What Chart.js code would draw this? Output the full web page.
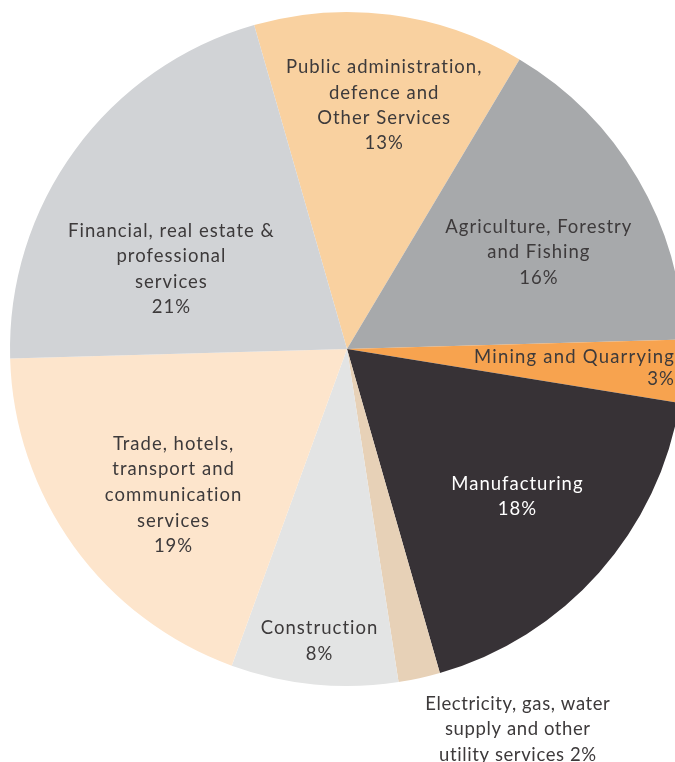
<!DOCTYPE html>
<html>
<head>
<meta charset="utf-8">
<script src="https://cdn.jsdelivr.net/npm/chart.js@4/dist/chart.umd.min.js"></script>
<style>
  html, body { margin: 0; padding: 0; background: #ffffff; overflow: hidden; }
  #wrap { position: relative; width: 675px; height: 762px; overflow: hidden; }
  #pie { position: absolute; left: 0; top: 0; }
</style>
</head>
<body>
<div id="wrap"><canvas id="pie" width="694" height="762"></canvas></div>
<script>
// Sector shares of output (%), clockwise from the top
const categories = [
  'Public administration, defence and Other Services',
  'Agriculture, Forestry and Fishing',
  'Mining and Quarrying',
  'Manufacturing',
  'Electricity, gas, water supply and other utility services',
  'Construction',
  'Trade, hotels, transport and communication services',
  'Financial, real estate & professional services'
];
const shares = [13, 16, 3, 18, 2, 8, 19, 21];

// Wrapped label text; {p} is replaced by the slice percentage
const labelLines = [
  ['Public administration,', 'defence and', 'Other Services', '{p}'],
  ['Agriculture, Forestry', 'and Fishing', '{p}'],
  ['Mining and Quarrying', '{p}'],
  ['Manufacturing', '{p}'],
  ['Electricity, gas, water', 'supply and other', 'utility services {p}'],
  ['Construction', '{p}'],
  ['Trade, hotels,', 'transport and', 'communication', 'services', '{p}'],
  ['Financial, real estate &', 'professional', 'services', '{p}']
];

const sliceColors = ['#f9d1a0', '#a7a9ab', '#f7a34f', '#373236', '#e7d1b7', '#e3e4e4', '#fde5cc', '#d1d3d6'];
const textColors  = ['#3d3a3b', '#3d3a3b', '#3d3a3b', '#ffffff', '#3d3a3b', '#3d3a3b', '#3d3a3b', '#3d3a3b'];

// Label anchor relative to the slice: angle shift (deg) from the slice middle,
// distance as a fraction of the radius, horizontal alignment, line height, letter spacing
const labelPlacement = [
  { da: 1.2,   r: 0.737, align: 'center', lh: 25.4, ls: 1 },
  { da: 3.2,   r: 0.64,  align: 'center', lh: 25.8, ls: 1 },
  { da: -0.8,  r: 0.975, align: 'right',  lh: 22.5, ls: 1.2 },
  { da: -1.1,  r: 0.665, align: 'center', lh: 25.8, ls: 1 },
  { da: -11.9, r: 1.232, align: 'center', lh: 25.6, ls: 0.6 },
  { da: -0.2,  r: 0.865, align: 'center', lh: 26,   ls: 1 },
  { da: -3.9,  r: 0.669, align: 'center', lh: 25.6, ls: 1 },
  { da: -11.2, r: 0.575, align: 'center', lh: 25.4, ls: 1 }
];

const sliceLabels = {
  id: 'sliceLabels',
  afterDatasetsDraw(chart) {
    const ctx = chart.ctx;
    const meta = chart.getDatasetMeta(0);
    const values = chart.data.datasets[0].data;
    const total = values.reduce((a, b) => a + b, 0);
    ctx.save();
    ctx.font = '18.5px Lato, "Open Sans", sans-serif';
    ctx.textBaseline = 'middle';
    meta.data.forEach((arc, i) => {
      const p = arc.getProps(['x', 'y', 'startAngle', 'endAngle', 'outerRadius'], true);
      const place = labelPlacement[i];
      const a = (p.startAngle + p.endAngle) / 2 + place.da * Math.PI / 180;
      const ax = p.x + Math.cos(a) * p.outerRadius * place.r;
      const ay = p.y + Math.sin(a) * p.outerRadius * place.r + 2;
      const pct = Math.round(values[i] / total * 100) + '%';
      const lines = labelLines[i].map(s => s.replace('{p}', pct));
      const top = ay - (lines.length - 1) * place.lh / 2;
      ctx.letterSpacing = place.ls + 'px';
      ctx.fillStyle = textColors[i];
      ctx.textAlign = place.align;
      lines.forEach((line, k) => ctx.fillText(line, ax, top + k * place.lh));
    });
    ctx.restore();
  }
};

new Chart(document.getElementById('pie'), {
  type: 'pie',
  data: {
    labels: categories,
    datasets: [{
      data: shares,
      backgroundColor: sliceColors,
      borderWidth: 0,
      hoverOffset: 0
    }]
  },
  options: {
    responsive: false,
    animation: false,
    rotation: -16,
    layout: { padding: { left: 10, right: 10, top: 12, bottom: 76 } },
    plugins: {
      legend: { display: false },
      tooltip: { enabled: false }
    }
  },
  plugins: [sliceLabels]
});
</script>
</body>
</html>
